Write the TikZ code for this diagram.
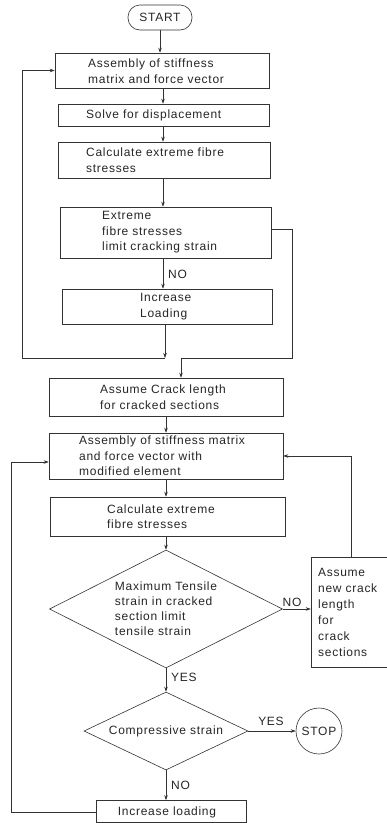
\documentclass[tikz,border=0pt]{standalone}
\usepackage{fontspec}
\setmainfont[LetterSpace=6]{Liberation Sans}
\usetikzlibrary{shapes.geometric,arrows.meta}
\tikzset{
  txt/.style={font=\fontsize{12}{15.5}\selectfont, inner sep=0pt, align=left, text=black!85},
  boxshape/.style={draw=black!80, line width=0.6pt, inner sep=0pt},
  decision/.style={diamond, draw=black!80, line width=0.6pt, aspect=2, inner sep=0pt, align=left, font=\fontsize{12}{15}\selectfont, text=black!85},
  link/.style={draw=black!80, line width=0.6pt},
  arr/.style={link, -{Stealth[length=5pt,width=3.5pt]}},
  lbl/.style={font=\fontsize{12}{14}\selectfont, inner sep=0pt, text=black!85}
}
\begin{document}
\begin{tikzpicture}[x=1pt,y=-1pt]
\fill[white] (0,0) rectangle (387,823);
\useasboundingbox (0,0) rectangle (387,823);
% columns
\coordinate (col1) at (163,0);
\coordinate (col2) at (166,0);
% start
\node[boxshape, rounded corners=12pt, minimum width=64pt, minimum height=25pt, txt, inner sep=0pt] (start) at (160,17.5) {START};
% upper boxes
\node[boxshape, minimum width=214pt, minimum height=35pt] (box1) at (162,70.5) {};
\node[txt, anchor=west] (box1t) at (88,71) {Assembly of stiffness\\matrix and force vector};
\node[boxshape, minimum width=211pt, minimum height=22pt] (box2) at (163.5,115) {};
\node[txt, anchor=west] (box2t) at (86,115) {Solve for displacement};
\node[boxshape, minimum width=212pt, minimum height=36pt] (box3) at (164,160) {};
\node[txt, anchor=west] (box3t) at (86,160) {Calculate extreme fibre\\stresses};
\node[boxshape, minimum width=211pt, minimum height=51pt] (box4) at (165.5,232.5) {};
\node[txt, anchor=west] (box4t) at (102,232.5) {Extreme\\fibre stresses\\limit cracking strain};
\node[boxshape, minimum width=210pt, minimum height=35pt] (box6) at (167,306.5) {};
\node[txt, anchor=west] (box6t) at (140,306.5) {Increase\\Loading};
% lower boxes
\node[boxshape, minimum width=234pt, minimum height=38pt] (box5) at (166,397) {};
\node[txt, anchor=west] (box5t) at (100,397) {Assume Crack length\\for cracked sections};
\node[boxshape, minimum width=234pt, minimum height=46pt] (box7) at (166,456) {};
\node[txt, anchor=west] (box7t) at (79,456) {Assembly of stiffness matrix\\and force vector with\\modified element};
\node[boxshape, minimum width=235pt, minimum height=39pt] (box8) at (167.5,516.5) {};
\node[txt, anchor=west] (box8t) at (107,516.5) {Calculate extreme\\fibre stresses};
\node[decision, minimum width=233pt, minimum height=118pt] (dia1) at (166,609) {Maximum Tensile\\strain in cracked\\section limit\\tensile strain};
\node[inner sep=0pt, minimum width=76pt, minimum height=110pt] (box9) at (349,612) {};
\draw[link] (box9.north east) -- (box9.north west) -- (box9.south west) -- (box9.south east);
\node[txt, anchor=west, font=\fontsize{12}{16}\selectfont] (box9t) at (318,612) {Assume\\new crack\\length\\for\\crack\\sections};
\node[decision, minimum width=164pt, minimum height=78pt] (dia2) at (166,731) {Compressive strain};
\node[circle, draw=black!80, line width=0.6pt, minimum size=46pt, inner sep=0pt, txt] (stop) at (319,731) {STOP};
\node[boxshape, minimum width=150pt, minimum height=22pt] (box10) at (171,811.5) {};
\node[txt] (box10t) at (167,812) {Increase loading};
% main chain
\draw[arr] (start.south) -- (box1.north -| start.south);
\draw[arr] (box1.south -| col1) -- (box2.north -| col1);
\draw[arr] (box2.south -| col1) -- (box3.north -| col1);
\draw[arr] (box3.south -| col1) -- (box4.north -| col1);
\draw[arr] (box4.south -| col1) -- (box6.north -| col1);
\node[lbl, anchor=west] (no1) at (168,274) {NO};
% loop back to box1
\coordinate (lb) at (165,358);
\coordinate (ll) at (22,358);
\draw[arr] (box6.south -| lb) -- (lb);
\draw[arr] (lb) -- (ll) |- (box1.west);
% yes path from box4
\coordinate (rt) at (292,229);
\coordinate (rb) at (292,358);
\coordinate (jb) at (181,358);
\draw[link] (box4.east |- rt) -- (rt) -- (rb) -- (jb);
\draw[arr] (jb) -- (box5.north -| jb);
% lower chain
\draw[arr] (box5.south -| col2) -- (box7.north -| col2);
\draw[arr] (box7.south -| col2) -- (box8.north -| col2);
\draw[arr] (box8.south -| col2) -- (dia1.north);
\draw[arr] (dia1.east) -- (box9.west |- dia1.east);
\node[lbl] (no2) at (292,602) {NO};
\draw[arr] (dia1.south) -- (dia2.north);
\node[lbl, anchor=west] (yes1) at (171,677) {YES};
\draw[arr] (dia2.east) -- (stop.west);
\node[lbl] (yes2) at (271,721) {YES};
\draw[arr] (dia2.south) -- (box10.north -| dia2.south);
\node[lbl, anchor=west] (no3) at (171,785) {NO};
% new crack length back to box7
\coordinate (n9) at (351,456);
\draw[arr] (box9.north -| n9) -- (n9) -- (box7.east);
% increase loading back to box7
\coordinate (ml) at (11,812);
\coordinate (mt) at (11,462);
\draw[arr] (box10.west |- ml) -- (ml) -- (mt) -- (box7.west |- mt);
\end{tikzpicture}
\end{document}
